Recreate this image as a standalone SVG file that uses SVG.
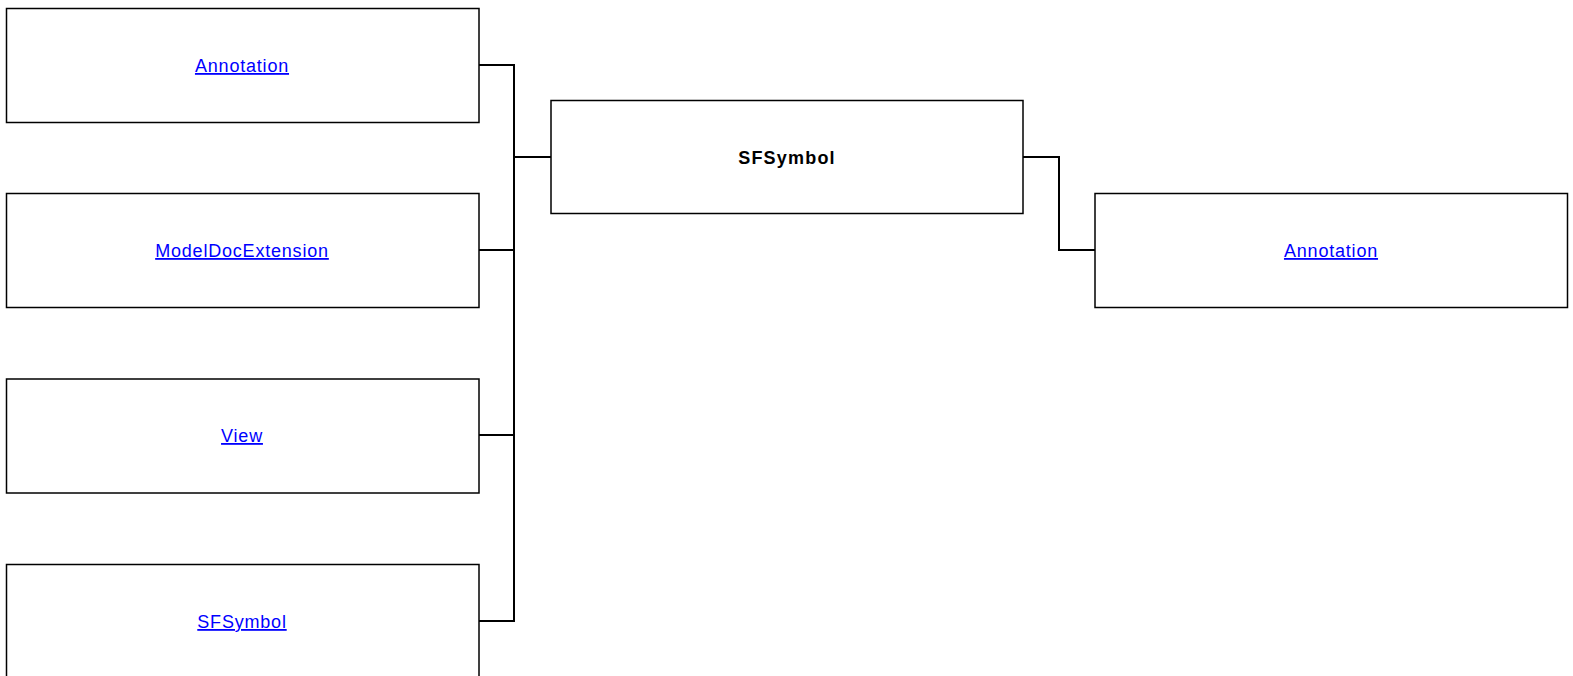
<svg xmlns="http://www.w3.org/2000/svg" width="1573" height="676" viewBox="0 0 1573 676">
<style>
.box{fill:#fff;stroke:#000;stroke-width:1.5}
.lnk{font-family:"Liberation Sans",Arial,sans-serif;font-size:18px;letter-spacing:0.8px;fill:#0000ff;text-decoration:underline;text-anchor:middle}
.main{font-family:"Liberation Sans",Arial,sans-serif;font-size:18px;font-weight:bold;letter-spacing:1.2px;fill:#000;text-anchor:middle}
.con{fill:none;stroke:#000;stroke-width:2}
</style>
<rect width="1573" height="676" fill="#fff"/>
<g id="connectors">
<polyline class="con" points="479,65 514,65 514,621 479,621"/>
<line class="con" x1="479" y1="250" x2="514" y2="250"/>
<line class="con" x1="479" y1="435" x2="514" y2="435"/>
<line class="con" x1="514" y1="157" x2="551" y2="157"/>
<polyline class="con" points="1023,157 1059,157 1059,250 1095,250"/>
</g>
<g id="n-annotation-left">
<rect class="box" x="6.5" y="8.5" width="472.5" height="114"/>
<text class="lnk" x="242" y="72">Annotation</text>
</g>
<g id="n-modeldocextension">
<rect class="box" x="6.5" y="193.5" width="472.5" height="114"/>
<text class="lnk" x="242" y="257">ModelDocExtension</text>
</g>
<g id="n-view">
<rect class="box" x="6.5" y="379" width="472.5" height="114"/>
<text class="lnk" x="242" y="442">View</text>
</g>
<g id="n-sfsymbol-left">
<rect class="box" x="6.5" y="564.5" width="472.5" height="114"/>
<text class="lnk" x="242" y="628">SFSymbol</text>
</g>
<g id="n-sfsymbol">
<rect class="box" x="551" y="100.5" width="472" height="113"/>
<text class="main" x="787" y="164">SFSymbol</text>
</g>
<g id="n-annotation-right">
<rect class="box" x="1095" y="193.5" width="472.5" height="114"/>
<text class="lnk" x="1331" y="257">Annotation</text>
</g>
</svg>
